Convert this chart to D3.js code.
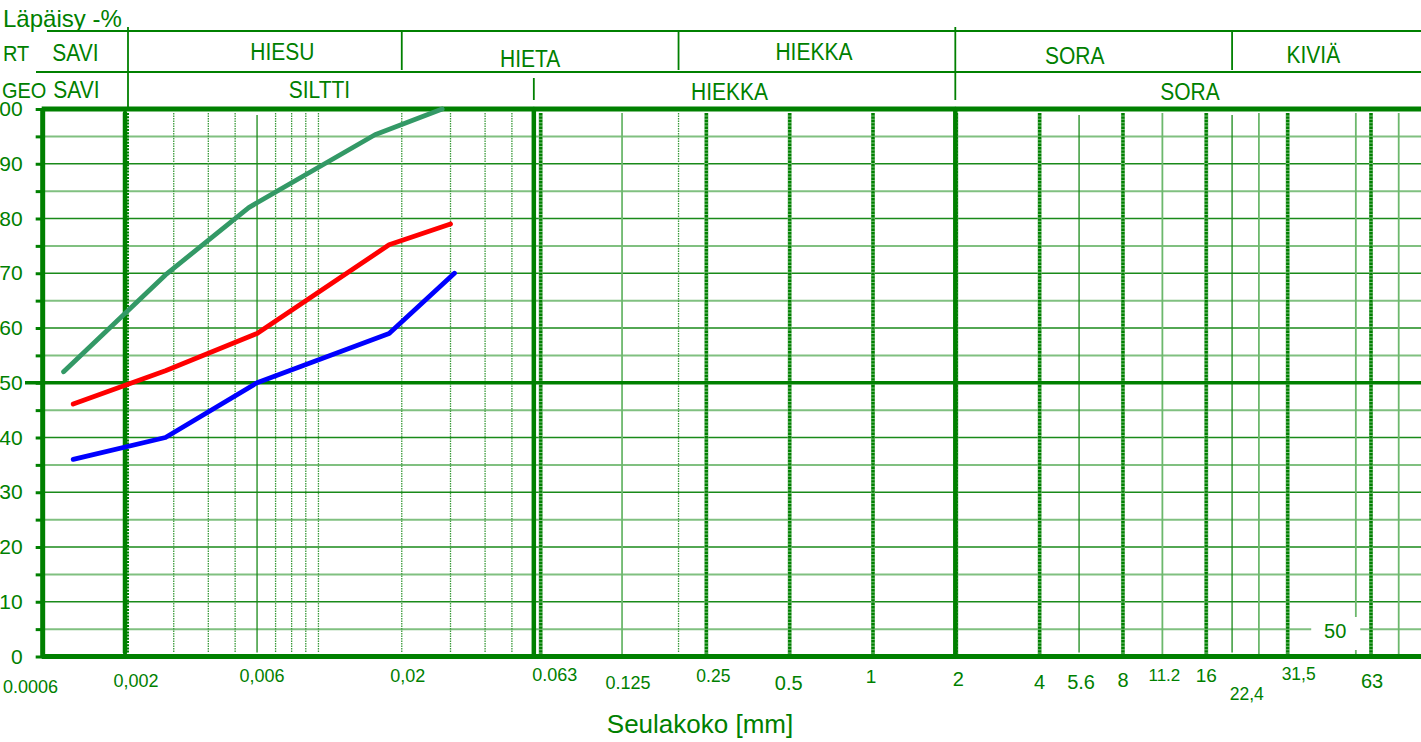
<!DOCTYPE html>
<html><head><meta charset="utf-8">
<script src="https://cdn.jsdelivr.net/npm/d3@7"></script>
<style>
html,body{margin:0;padding:0;background:#fff;overflow:hidden;}
svg{display:block;font-family:"Liberation Sans",Arial,sans-serif;}
</style></head><body>
<svg id="c" width="1421" height="742"></svg>
<script>
// ---------------- data ----------------
const curveGreen = [[0.0012,52],[0.0028,69.7],[0.0056,82],[0.016,95.3],[0.028,100]];
const curveRed   = [[0.0013,46.1],[0.0028,52.2],[0.006,59],[0.018,75.2],[0.030,79]];
const curveBlue  = [[0.0013,36],[0.0028,40],[0.006,50],[0.018,59],[0.031,70]];

const yTickValues = [0,5,10,15,20,25,30,35,40,45,50,55,60,65,70,75,80,85,90,95,100];
const yLabelValues = [0,10,20,30,40,50,60,70,80,90,100];

const xTickValues = [0.0006,0.002,0.006,0.02,0.063,0.125,0.25,0.5,1,2,4,5.6,8,11.2,16,22.4,31.5,63];
const xTickLabels = ["0.0006","0,002","0,006","0,02","0.063","0.125","0.25","0.5","1","2","4","5.6","8","11.2","16","22,4","31,5","63"];

const rtClasses = ["SAVI","HIESU","HIETA","HIEKKA","SORA","KIVIÄ"];
const rtBounds  = [0.001,0.002,0.02,0.2,2,20,96];
const geoClasses = ["SAVI","SILTTI","HIEKKA","SORA"];
const geoBounds  = [0.001,0.002,0.06,2,96];

const boldSieves   = [0.002,0.06,2];
const dottedSieves = [0.063,0.25,0.5,1,2,4,8,16,31.5,63];
const fineDotted   = [0.003,0.004,0.005,0.007,0.008,0.009,0.01,0.02,0.03,0.04,0.05,0.2];
const thinSolid    = [0.006,5.6,20];
const lightSolid   = [0.125,11.2,25,56,80];
const innerLabelValues = [50];

// ---------------- layout ----------------
const W = 1421, H = 742;
const G = "#008000", LG = "#80c080", TEAL = "#339966";
const x = d3.scaleLog().domain([0.002,63]).range([125,1370]);
const y = d3.scaleLinear().domain([0,100]).range([656.5,109]);
const xL = x(0.001), xR = W;
const svg = d3.select("#c");

// x-label layout nudges: [dx, baseline, fontSize]
const xLabelLayout = {
 "0.0006":[0,693,18],"0,002":[11,687,18],"0,006":[5,682,18],"0,02":[6,682,18],
 "0.063":[15,681,18],"0.125":[6,689,18],"0.25":[8,682,17.5],"0.5":[0,690,20],
 "1":[-1,683,19],"2":[3,686,20],"4":[1,689,20],"5.6":[2,689,20],"8":[1,687,20],
 "11.2":[2,681,17],"16":[1,682,19],"22,4":[1,700,17.5],"31,5":[12,680,17.5],"63":[2,688,20]
};
const rtLayout = [[-8,61],[19,60],[-10,67],[-3,60],[-19,64],[-13,63]];
const geoLayout = [[-8,98],[-10,98],[-15,100],[2,100]];
const stretch = (sel)=>sel.attr("transform",function(){
  const yy=+this.getAttribute("y"); return `translate(0,${yy}) scale(1,1.12) translate(0,${-yy})`;});

// ---------------- horizontal grid ----------------
const gridH = svg.append("g");
gridH.selectAll("line").data(yTickValues.filter(v=>v>0 && v<100 && v!==50)).join("line")
  .attr("x1",xL).attr("x2",xR).attr("y1",d=>y(d)).attr("y2",d=>y(d))
  .attr("stroke",d=>d%10===0?"#1a8a1a":LG)
  .attr("stroke-width",d=>d%10===0?1.4:2);

// ---------------- vertical grid ----------------
const vTop = y(100)+4, vBot = y(0)-4;
const gridV = svg.append("g");
gridV.selectAll(".fd").data(fineDotted).join("line").attr("class","fd")
  .attr("x1",d=>x(d)).attr("x2",d=>x(d)).attr("y1",vTop).attr("y2",vBot)
  .attr("stroke","#3a9a3a").attr("stroke-width",1.3).attr("stroke-dasharray","1.5,1");
gridV.selectAll(".ts").data(thinSolid).join("line").attr("class","ts")
  .attr("x1",d=>x(d)).attr("x2",d=>x(d)).attr("y1",vTop+2).attr("y2",vBot)
  .attr("stroke","#1a8a1a").attr("stroke-width",1.3);
gridV.selectAll(".ls").data(lightSolid).join("line").attr("class","ls")
  .attr("x1",d=>x(d)).attr("x2",d=>x(d)).attr("y1",vTop).attr("y2",vBot+2)
  .attr("stroke","#6cb86c").attr("stroke-width",1.8);
// dotted thick sieves
gridV.selectAll(".dsb").data(dottedSieves).join("line").attr("class","dsb")
  .attr("x1",d=>x(d)+1).attr("x2",d=>x(d)+1).attr("y1",vTop).attr("y2",vBot+2)
  .attr("stroke",LG).attr("stroke-width",4);
gridV.selectAll(".ds").data(dottedSieves).join("line").attr("class","ds")
  .attr("x1",d=>x(d)+1).attr("x2",d=>x(d)+1).attr("y1",vTop).attr("y2",vBot+2)
  .attr("stroke",G).attr("stroke-width",3.2).attr("stroke-dasharray","2.4,1");
// bold sieves
gridV.selectAll(".bs").data(boldSieves).join("line").attr("class","bs")
  .attr("x1",d=>x(d)).attr("x2",d=>x(d))
  .attr("y1",d=>d===0.002?vTop:y(100)).attr("y2",d=>d===0.002?vBot:y(0))
  .attr("stroke",G).attr("stroke-width",4.5).attr("stroke-linecap","round");
gridV.selectAll(".bsd").data([0.002]).join("line").attr("class","bsd")
  .attr("x1",d=>x(d)+3).attr("x2",d=>x(d)+3).attr("y1",vTop).attr("y2",vBot)
  .attr("stroke",G).attr("stroke-width",2).attr("stroke-dasharray","2,1.2");

// 50 % line
svg.append("line").attr("x1",25).attr("x2",xR).attr("y1",y(50)).attr("y2",y(50))
  .attr("stroke",G).attr("stroke-width",3.4);

// inner label "50"
innerLabelValues.forEach(v=>{
  svg.append("rect").attr("x",x(v)-31).attr("y",617).attr("width",49).attr("height",33).attr("fill","#fff");
  svg.append("text").attr("x",x(v)-7).attr("y",638).attr("text-anchor","middle")
    .attr("font-size",20).attr("fill",G).text(v);
});

// ---------------- frame ----------------
svg.append("line").attr("x1",xL).attr("x2",xR).attr("y1",y(100)).attr("y2",y(100)).attr("stroke",G).attr("stroke-width",5);
svg.append("line").attr("x1",xL).attr("x2",xR).attr("y1",y(0)).attr("y2",y(0)).attr("stroke",G).attr("stroke-width",5);
svg.append("line").attr("x1",xL+1).attr("x2",xL+1).attr("y1",y(100)).attr("y2",y(0)).attr("stroke",G).attr("stroke-width",5);

// y axis
const yAxis = d3.axisLeft(y).tickValues(yTickValues).tickSize(7).tickPadding(13)
  .tickFormat(d=>yLabelValues.includes(d)?String(d):"");
const ya = svg.append("g").attr("transform",`translate(${xL+1},0)`).call(yAxis);
ya.select(".domain").remove();
ya.selectAll(".tick line").attr("stroke",G).attr("stroke-width",3);
ya.selectAll(".tick text").attr("fill",G).attr("font-size",21)
  .attr("font-family",'"Liberation Sans",Arial,sans-serif');

// ---------------- curves ----------------
const line = d3.line().x(d=>x(d[0])).y(d=>y(d[1]));
[[curveGreen,TEAL],[curveRed,"#ff0000"],[curveBlue,"#0000ff"]].forEach(([data,col])=>{
  svg.append("path").datum(data).attr("d",line).attr("fill","none")
    .attr("stroke",col).attr("stroke-width",4.8)
    .attr("stroke-linecap","round").attr("stroke-linejoin","round");
});

// ---------------- x labels ----------------
svg.append("g").selectAll("text").data(xTickValues).join("text")
  .attr("x",(d,i)=>{const l=xTickLabels[i]; const px=x(d); return px<xL?3:px+xLabelLayout[l][0];})
  .attr("y",(d,i)=>xLabelLayout[xTickLabels[i]][1])
  .attr("text-anchor",(d,i)=>x(d)<xL?"start":"middle")
  .attr("font-size",(d,i)=>xLabelLayout[xTickLabels[i]][2])
  .attr("fill",G).text((d,i)=>xTickLabels[i]);

svg.append("text").attr("x",700).attr("y",733).attr("text-anchor","middle")
  .attr("font-size",26).attr("fill",G).text("Seulakoko [mm]");
svg.append("text").attr("x",3).attr("y",27).attr("font-size",24).attr("fill",G).text("Läpäisy -%");

// ---------------- header ----------------
const hdr = svg.append("g").attr("fill",G).attr("font-size",21);
svg.append("line").attr("x1",47).attr("x2",xR).attr("y1",31).attr("y2",31).attr("stroke",G).attr("stroke-width",2);
svg.append("line").attr("x1",36).attr("x2",xR).attr("y1",72).attr("y2",72).attr("stroke",G).attr("stroke-width",2);
// RT dividers
rtBounds.slice(1,-1).forEach(b=>{
  const isMajor = (b===0.002), isTwo = (b===2);
  svg.append("line").attr("x1",x(b)+(isMajor?3:0)).attr("x2",x(b)+(isMajor?3:0))
    .attr("y1",isMajor||isTwo?27:31).attr("y2",isMajor?108:(isTwo?100:70))
    .attr("stroke",G).attr("stroke-width",1.8);
});
// GEO dividers
geoBounds.slice(1,-1).filter(b=>!rtBounds.includes(b)).forEach(b=>{
  svg.append("line").attr("x1",x(b)).attr("x2",x(b)).attr("y1",78).attr("y2",100)
    .attr("stroke",G).attr("stroke-width",1.8);
});
stretch(hdr.append("text").attr("x",3).attr("y",61).attr("font-size",20).text("RT"));
stretch(hdr.append("text").attr("x",2).attr("y",98).attr("font-size",20).text("GEO"));
rtClasses.forEach((c,i)=>{
  const mid=(x(rtBounds[i])+x(Math.min(rtBounds[i+1],96)))/2;
  stretch(hdr.append("text").attr("x",mid+rtLayout[i][0]).attr("y",rtLayout[i][1]).attr("text-anchor","middle").text(c));
});
geoClasses.forEach((c,i)=>{
  const mid=(x(geoBounds[i])+x(geoBounds[i+1]))/2;
  stretch(hdr.append("text").attr("x",mid+geoLayout[i][0]+(i===0?1:0)).attr("y",geoLayout[i][1]).attr("text-anchor","middle").text(c));
});
</script>
</body></html>
